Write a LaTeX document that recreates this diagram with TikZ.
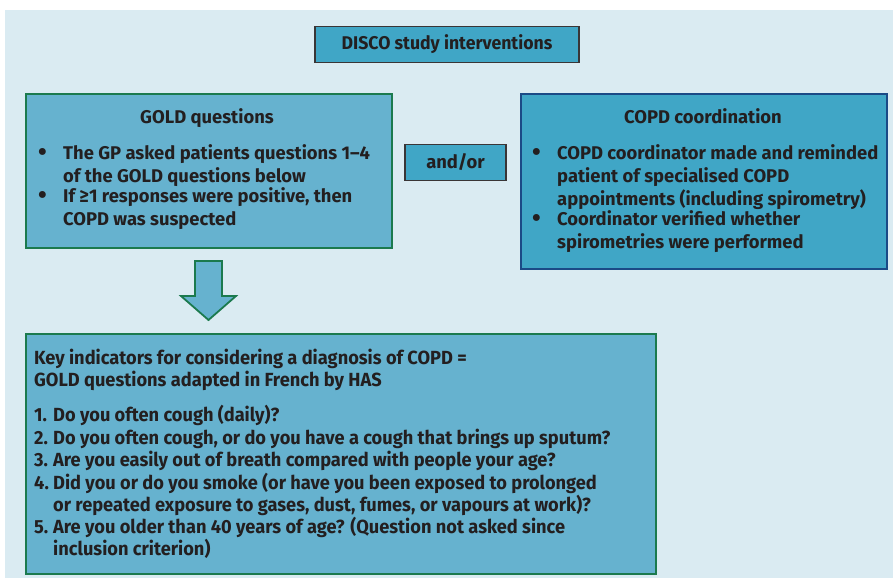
\documentclass[tikz,border=0pt]{standalone}
\usepackage{fontspec}
\setmainfont{Fira Sans}
\newfontfamily\topfont{Fira Sans}
\newfontfamily\condfont{Fira Sans}[FakeStretch=0.96]
\definecolor{bgc}{HTML}{DAEBF2}
\definecolor{lightfill}{HTML}{66B2CF}
\definecolor{darkfill}{HTML}{40A6C6}
\definecolor{greenline}{HTML}{1B7A4E}
\definecolor{blueline}{HTML}{1B4A86}
\definecolor{txt}{HTML}{231F20}
\tikzset{
  greenbox/.style={draw=greenline, fill=lightfill, line width=1.8pt, anchor=north west, inner sep=0pt},
  bluebox/.style={draw=blueline, fill=darkfill, line width=1.8pt, anchor=north west, inner sep=0pt},
  blackbox/.style={draw=txt!90, fill=darkfill, line width=1.8pt, inner sep=0pt, text=txt},
  toptext/.style={text=txt, inner sep=0pt, font=\topfont\bfseries\fontsize{18.4}{23}\selectfont},
  bottext/.style={text=txt, inner sep=0pt, font=\condfont\bfseries\fontsize{19}{22.5}\selectfont},
}
\newcommand{\bul}[2]{\noindent\makebox[25pt][l]{\raisebox{-1.6pt}{\fontsize{25}{22}\selectfont\textbullet}}\parbox[t]{#1}{\raggedright #2}\par}
\newcommand{\num}[2]{\noindent\makebox[19pt][l]{#1}\parbox[t]{590pt}{\raggedright #2}\par}
\begin{document}
\begin{tikzpicture}[x=1pt,y=-1pt]
\useasboundingbox (0,0) rectangle (893,581);
\fill[bgc] (5,10) rectangle (893,578);
% top title
\node[blackbox, minimum width=264pt, minimum height=36pt, font=\condfont\bfseries\fontsize{18.4}{20}\selectfont] (disco) at (447,44.5) {DISCO study interventions};
% GOLD box
\node[greenbox, minimum width=366pt, minimum height=154pt] (gold) at (25,93) {};
\node[toptext, anchor=base] (goldtitle) at (207,123) {GOLD questions};
\node[toptext, anchor=base west] (goldbody) at (38,159)
  {\begin{minipage}[t]{345pt}
   \bul{320pt}{The GP asked patients questions 1–4\\ of the GOLD questions below}
   \bul{320pt}{If ≥1 responses were positive, then\\ COPD was suspected}\end{minipage}};
% and/or
\node[blackbox, toptext, draw=txt!90, line width=1.8pt, minimum width=101pt, minimum height=36pt] (andor) at (455.5,162.5) {and/or};
% COPD box
\node[bluebox, minimum width=366pt, minimum height=175pt] (copd) at (520,93) {};
\node[toptext, anchor=base] (copdtitle) at (703,123) {COPD coordination};
\node[toptext, anchor=base west] (copdbody) at (532,159)
  {\begin{minipage}[t]{350pt}
   \bul{330pt}{COPD coordinator made and reminded\\ patient of specialised COPD\\ appointments (including spirometry)}
   \bul{330pt}{Coordinator verified whether\\ spirometries were performed}\end{minipage}};
% arrow
\draw[draw=greenline, fill=lightfill, line width=1.8pt, line join=miter]
  (195,261) -- (222,261) -- (222,296) -- (236,296) -- (208.5,320) -- (181,296) -- (195,296) -- cycle;
% bottom box
\node[greenbox, minimum width=630pt, minimum height=240pt] (key) at (25,333) {};
\node[bottext, anchor=base west] (keybody) at (34,364)
  {\begin{minipage}[t]{615pt}\raggedright
   Key indicators for considering a diagnosis of COPD =\\
   GOLD questions adapted in French by HAS\par\vspace{12.6pt}
   \num{1.}{Do you often cough (daily)?}
   \num{2.}{Do you often cough, or do you have a cough that brings up sputum?}
   \num{3.}{Are you easily out of breath compared with people your age?}
   \num{4.}{Did you or do you smoke (or have you been exposed to prolonged\\ or repeated exposure to gases, dust, fumes, or vapours at work)?}
   \num{5.}{Are you older than 40 years of age? (Question not asked since\\ inclusion criterion)}\end{minipage}};
\end{tikzpicture}
\end{document}
